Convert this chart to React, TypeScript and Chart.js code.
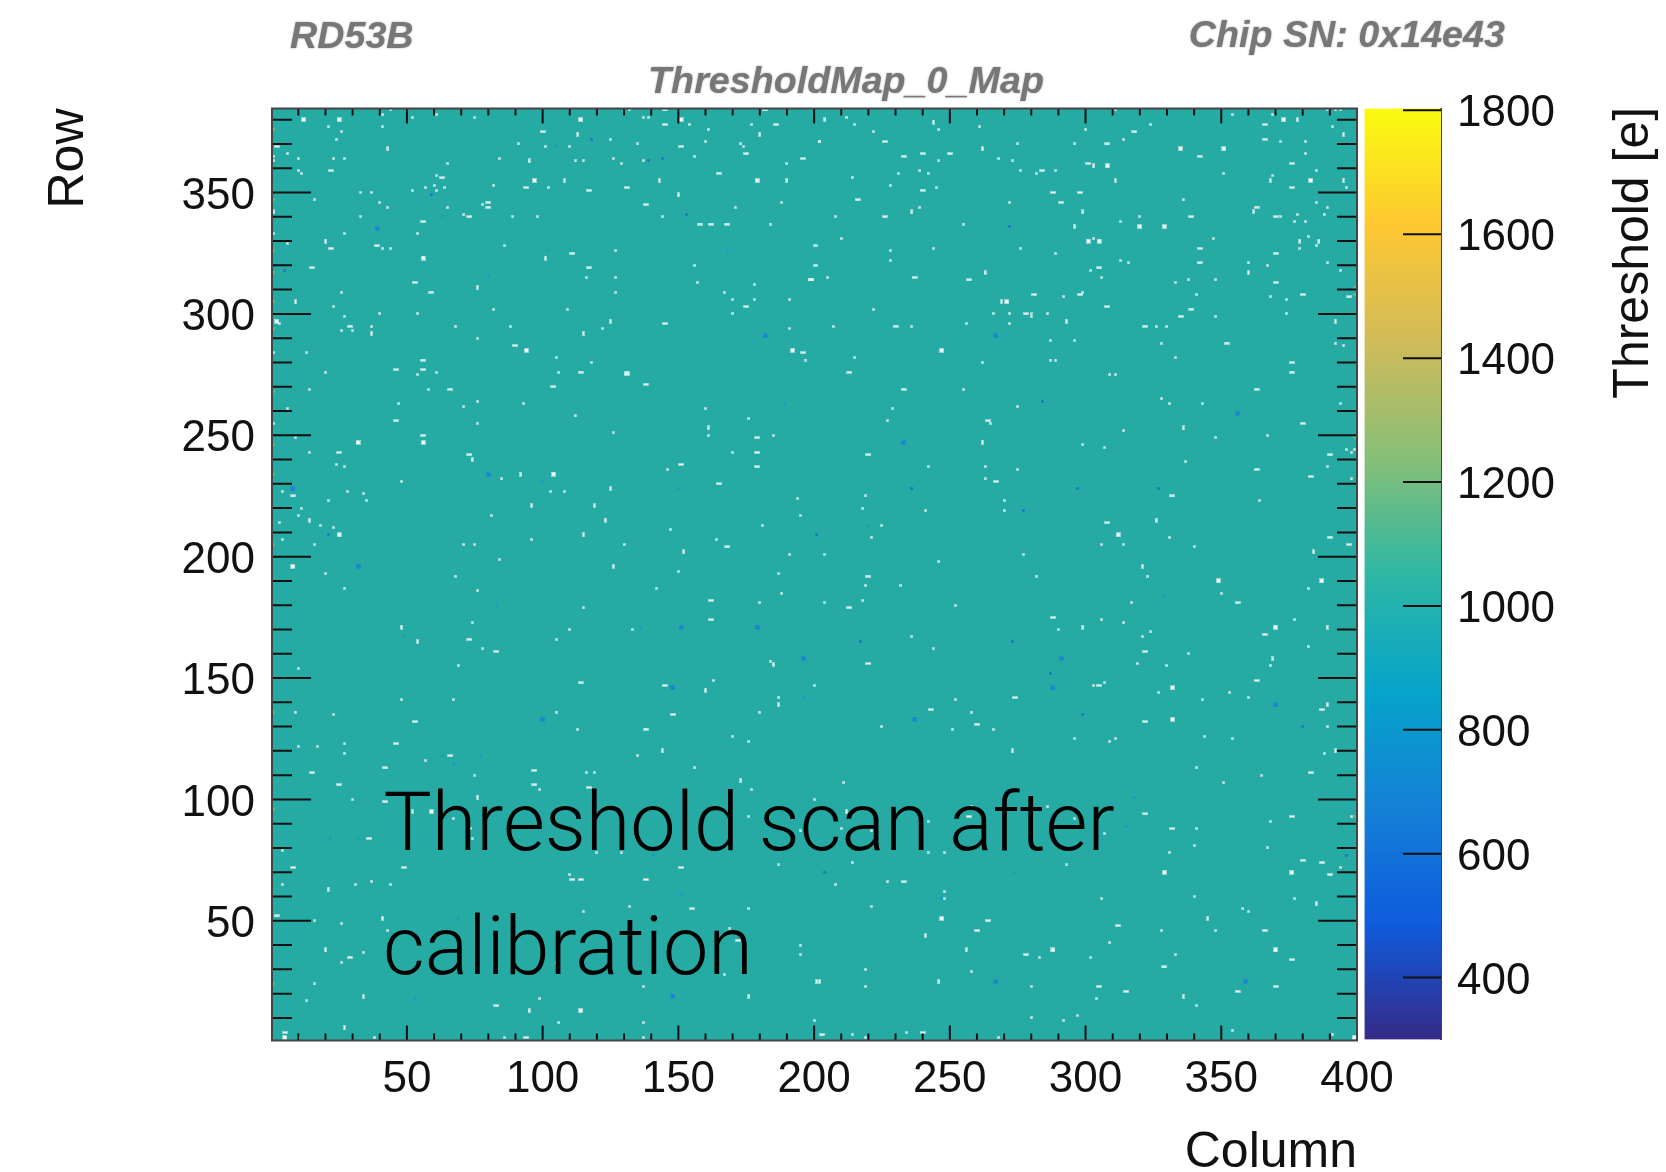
import React, { useEffect, useRef } from "react";
import { Chart, registerables } from "chart.js";

Chart.register(...registerables);

// ---- Heat-map outliers, as column,row pairs ----
const whiteDots: number[][] = [
[44,384],[41,382],[52,381],[61,382],[75,381],[132,384],[137,381],[139,381],[154,378],[177,378],[161,376],[21,377],[41,377],[26,375],[24,372],[125,372],[160,371],[202,371],[91,370],[135,370],[101,369],[110,369],[173,370],[174,369],[6,366],[1,365],[23,364],[27,364],[156,365],[10,364],[84,364],[126,364],[1,363],[112,363],[115,363],[137,363],[65,362],[129,362],[190,362],[10,359],[11,358],[61,357],[60,353],[82,353],[64,352],[102,352],[57,352],[52,351],[61,351],[33,350],[37,350],[16,347],[40,346],[78,345],[188,346],[43,344],[65,344],[171,344],[71,341],[98,340],[144,340],[33,340],[89,340],[184,337],[54,333],[27,333],[1,333],[6,329],[41,327],[44,327],[86,328],[201,328],[127,326],[156,320],[201,320],[116,315],[127,315],[157,313],[178,312],[26,309],[127,309],[167,309],[170,306],[178,306],[191,306],[23,303],[82,302],[109,302],[40,300],[54,300],[170,300],[27,299],[3,296],[37,295],[88,295],[68,295],[122,294],[191,294],[26,293],[30,293],[76,290],[1,284],[13,284],[105,282],[197,281],[118,280],[20,276],[106,276],[61,276],[54,275],[14,269],[58,269],[47,263],[76,264],[93,263],[71,262],[6,261],[160,261],[112,258],[176,257],[1,255],[76,255],[126,251],[161,250],[185,250],[9,249],[14,243],[170,243],[24,238],[27,237],[146,236],[85,232],[48,231],[4,227],[28,227],[103,227],[108,227],[34,226],[21,223],[35,223],[194,224],[11,220],[10,217],[195,217],[81,217],[3,214],[18,213],[23,212],[181,213],[147,211],[4,207],[96,207],[164,207],[16,205],[71,205],[75,205],[130,205],[191,201],[84,199],[150,194],[20,193],
[212,381],[215,378],[246,376],[261,377],[222,375],[202,371],[275,370],[268,364],[246,363],[273,363],[276,359],[239,359],[231,358],[242,358],[282,358],[289,359],[214,356],[228,353],[245,352],[272,346],[239,344],[208,340],[255,337],[210,331],[200,328],[244,327],[276,327],[228,326],[228,322],[200,320],[205,315],[222,302],[266,300],[272,300],[280,300],[280,299],[286,300],[256,296],[272,296],[236,295],[207,295],[215,282],[262,280],[255,269],[275,262],[229,261],[227,256],[265,255],[242,237],[263,237],[275,236],[263,232],[219,225],[270,223],[218,220],[270,219],[241,219],[225,213],[221,208],[204,201],[246,198],[277,201],
[311,384],[324,378],[354,382],[369,382],[389,384],[392,384],[394,384],[391,377],[300,376],[314,372],[372,371],[296,370],[381,371],[381,366],[385,359],[351,358],[369,357],[396,352],[336,347],[385,346],[389,344],[388,341],[378,341],[372,340],[320,340],[313,338],[377,338],[381,338],[382,332],[347,331],[303,331],[385,328],[379,327],[289,325],[313,322],[360,321],[389,321],[316,321],[367,320],[302,318],[394,318],[306,315],[338,314],[348,314],[333,313],[299,309],[341,308],[292,307],[368,307],[374,306],[374,300],[348,299],[326,295],[330,295],[287,289],[296,289],[392,288],[328,288],[395,287],[333,282],[287,281],[289,281],[309,275],[311,275],[328,265],[331,263],[394,263],[343,263],[314,252],[367,250],[348,249],[299,246],[307,245],[396,244],[399,244],[398,243],[337,239],[389,237],[398,232],[364,223],[331,208],[306,205],[314,205],[340,204],
[68,192],[187,193],[27,187],[76,186],[142,187],[188,185],[180,181],[115,179],[74,173],[110,170],[133,170],[105,166],[78,162],[184,157],[185,156],[185,155],[10,154],[69,155],[163,149],[200,147],[48,141],[67,141],[187,142],[9,136],[23,135],[105,136],[180,136],[113,129],[170,126],[176,124],[27,123],[10,122],[17,122],[27,119],[135,118],[57,116],[156,113],[116,111],[119,111],[75,110],[99,104],[177,104],[30,100],[200,100],[176,93],[67,92],[99,92],[195,87],[74,84],[166,80],[4,79],[120,78],[129,78],[187,73],[110,69],[37,66],[31,65],[44,65],[4,65],[16,50],[26,49],[132,56],[176,55],[115,54],[43,46],[169,47],[195,40],[34,37],[26,33],[195,36],[105,33],[167,28],[16,24],[137,23],[99,18],[13,17],[106,8],[137,8],[200,9],[38,2],[137,2],[86,2],[10,2],
[219,188],[232,188],[282,192],[323,192],[382,187],[204,181],[218,182],[350,185],[252,180],[317,181],[306,174],[314,173],[377,174],[290,170],[324,169],[236,167],[321,167],[382,163],[244,162],[338,160],[319,156],[330,155],[368,155],[303,147],[307,148],[327,144],[353,144],[252,141],[360,142],[343,141],[258,136],[225,130],[389,130],[251,129],[266,129],[344,126],[296,125],[354,125],[311,125],[309,124],[388,119],[341,113],[365,110],[211,107],[351,107],[258,97],[286,97],[296,92],[398,93],[242,91],[368,91],[210,88],[221,87],[341,88],[307,86],[340,81],[367,80],[242,78],[331,78],[248,78],[214,74],[293,73],[394,72],[208,65],[227,66],[248,62],[248,59],[306,59],[340,60],[377,59],[221,56],[358,55],[360,54],[328,46],[348,46],[309,41],[333,36],[283,35],[302,35],[219,30],[258,29],[219,23],[280,23],[304,18],[341,15],[280,10],[297,11],[292,9],[234,4],[214,3],[354,5],[219,2],[268,2],[391,3],
];
const whiteWide: number[][] = [
[145,384],[145,378],[182,384],[186,378],[100,375],[2,369],[151,369],[175,366],[196,364],[22,359],[165,358],[63,356],[131,352],[94,352],[117,351],[80,346],[138,345],[80,344],[73,340],[56,338],[158,337],[162,337],[168,337],[22,327],[39,328],[111,325],[15,319],[117,319],[199,314],[53,313],[59,309],[175,303],[145,296],[29,295],[90,287],[196,284],[56,281],[46,277],[56,277],[131,276],[114,276],[131,275],[138,271],[104,270],[66,269],[46,256],[56,250],[179,249],[25,243],[179,243],[73,242],[151,238],[179,237],[165,230],[8,225],[168,204],
[226,371],[233,365],[240,366],[250,366],[284,359],[240,351],[216,347],[226,340],[237,315],[257,314],[199,314],[281,308],[230,295],[278,300],[213,276],[233,269],[264,256],[220,242],[267,231],
[366,378],[318,375],[366,372],[308,370],[342,365],[376,362],[301,362],[376,352],[288,350],[298,350],[291,346],[363,344],[370,340],[339,340],[342,327],[370,325],[342,321],[305,319],[370,313],[298,308],[380,308],[397,307],[308,303],[339,302],[335,299],[322,295],[352,288],[376,280],[376,276],[363,269],[380,255],[390,242],[363,236],[383,233],[332,225],[308,214],[390,208],[397,205],
[162,182],[162,174],[73,166],[83,161],[114,148],[145,147],[148,135],[53,132],[138,129],[46,123],[66,118],[42,113],[97,112],[15,111],[25,106],[97,106],[117,105],[42,99],[73,88],[36,84],[49,72],[151,72],[8,72],[111,67],[114,67],[138,67],[2,52],[155,55],[172,42],[29,35],[83,15],[5,4],[94,2],
[220,192],[356,181],[213,179],[288,175],[366,168],[322,161],[220,156],[363,149],[305,147],[274,142],[243,137],[387,137],[322,132],[260,131],[383,111],[322,94],[376,93],[257,93],[332,88],[380,75],[387,74],[390,69],[233,66],[264,50],[312,48],[260,46],[366,46],[278,36],[376,34],[329,31],[305,23],[370,23],[315,21],[356,21],[240,4],[203,3],
];
const whiteTall: number[][] = [
[113,374],[180,374],[43,368],[95,363],[108,355],[143,355],[190,355],[150,349],[1,342],[20,330],[101,323],[76,311],[9,305],[125,297],[37,292],[115,292],[161,253],[74,240],[92,234],[125,228],[96,221],[119,221],[14,215],[123,215],[115,209],[152,202],[126,196],
[204,380],[244,379],[262,368],[236,342],[263,317],[269,305],[293,297],[262,247],
[378,380],[395,374],[303,361],[311,355],[368,355],[395,355],[362,342],[299,342],[296,336],[379,330],[386,330],[360,317],[392,297],[336,253],[326,215],[384,202],[321,196],
[48,171],[54,165],[173,108],[160,145],[187,139],[144,120],[76,101],[52,95],[21,63],[41,51],[20,38],[201,25],[34,19],[176,19],[95,13],[27,6],
[299,171],[389,171],[369,158],[389,139],[273,120],[392,120],[212,95],[385,57],[345,51],[241,44],[256,38],[202,25],[246,25],[336,19],
];
const whiteBig: number[][] = [
[12,380],[25,380],[114,380],[151,380],[97,355],[179,355],[56,323],[2,297],[94,285],[192,285],[32,247],[56,247],[104,234],[25,209],[8,196],
[271,305],[247,285],
[373,380],[335,368],[351,368],[308,361],[383,355],[320,336],[329,336],[301,330],[305,330],[312,209],
[59,95],[114,13],[5,2],
[349,190],[387,190],[370,171],[332,146],[332,133],[329,70],[376,70],[247,51],[288,38],[370,38],[399,2],
];
const blueCells: number[][] = [
[39,335],[80,234],[182,291],[8,228],[32,196],[267,291],[233,247],[356,259],[291,158],[288,146],[370,139],[237,133],[359,25],[267,25],[148,19],[179,171],[151,171],[100,133],[148,146],[196,158],
];
const darkCells: number[][] = [
[59,349],[287,152],[217,165],[273,165],[118,372],[144,364],[139,363],[153,341],[272,336],[284,264],[236,228],[297,228],[327,228],[277,219],[204,70],[299,135],[201,209],[21,209],[5,318],[380,130],[396,77],
];
const blueSpecks: number[][] = [
[105,369],[102,326],[168,326],[63,340],[80,316],[189,263],[150,228],[100,231],[220,213],[247,59],[318,101],[315,89],[329,184],[274,70],[83,180],[49,167],[136,171],[196,142],[63,118],[77,118],[67,115],[32,84],[22,84],[53,18],[151,61],[69,51],[141,77],
];
const edgeSpecks: number[][] = [
[1,376],[1,347],[1,326],[1,317],[1,305],[1,294],[1,268],[1,246],[1,234],[1,205],[1,170],[1,136],[1,96],[1,24],[399,311],[399,308],[399,249],[399,190],[399,93],[399,40],
];

// ---- Axes ----
const xMajorTicks = [50, 100, 150, 200, 250, 300, 350, 400];
const xMinorTicks = [10, 20, 30, 40, 60, 70, 80, 90, 110, 120, 130, 140, 160, 170, 180, 190, 210, 220, 230, 240, 260, 270, 280, 290, 310, 320, 330, 340, 360, 370, 380, 390];
const yMajorTicks = [50, 100, 150, 200, 250, 300, 350];
const yMinorTicks = [10, 20, 30, 40, 60, 70, 80, 90, 110, 120, 130, 140, 160, 170, 180, 190, 210, 220, 230, 240, 260, 270, 280, 290, 310, 320, 330, 340, 360, 370, 380];
const zTicks = [400, 600, 800, 1000, 1200, 1400, 1600, 1800];
const zRange = [300, 1803];
const colourStops = ["#352a87", "#0f5cdd", "#1481d6", "#06a4ca", "#2eb7a4", "#87bf77", "#d1bb59", "#fec832", "#f9fb0e"];

// ---- Text ----
const leftLabel = "RD53B";
const rightLabel = "Chip SN: 0x14e43";
const titleLabel = "ThresholdMap_0_Map";
const xTitle = "Column";
const yTitle = "Row";
const zTitle = "Threshold [e]";
const noteLines = ["Threshold scan after", "calibration"];

const SANS = '"Liberation Sans", Arial, sans-serif';
const PLOT_FILL = "#25aaa4";

function stamp(w: number, h: number, colour: string): HTMLCanvasElement {
  const c = document.createElement("canvas");
  c.width = w;
  c.height = h;
  const g = c.getContext("2d")!;
  g.fillStyle = colour;
  g.globalAlpha = 0.5;
  g.fillRect(0, 0, w, h);
  g.globalAlpha = 1;
  g.fillRect(1, 1, Math.max(1, w - 2), Math.max(1, h - 2));
  return c;
}

const toPoints = (pairs: number[][]) => pairs.map(([x, y]) => ({ x, y }));

function series(label: string, pairs: number[][], style: HTMLCanvasElement) {
  return {
    label,
    data: toPoints(pairs),
    pointStyle: style,
    pointRadius: 3,
    showLine: false,
  };
}

export default function App() {
  const mainRef = useRef<HTMLCanvasElement>(null);
  const barRef = useRef<HTMLCanvasElement>(null);

  useEffect(() => {
    const mainPlugin = {
      id: "rootFrame",
      beforeDatasetsDraw(chart: any) {
        const { ctx, chartArea: a } = chart;
        ctx.save();
        ctx.fillStyle = PLOT_FILL;
        ctx.fillRect(a.left, a.top, a.right - a.left, a.bottom - a.top);
        ctx.restore();
      },
      afterDraw(chart: any) {
        const { ctx, chartArea: a, scales } = chart;
        ctx.save();
        ctx.strokeStyle = "#111";
        ctx.lineWidth = 2;
        const vTick = (v: number, len: number) => {
          const p = scales.x.getPixelForValue(v);
          ctx.beginPath();
          ctx.moveTo(p, a.bottom);
          ctx.lineTo(p, a.bottom - len);
          ctx.moveTo(p, a.top);
          ctx.lineTo(p, a.top + len);
          ctx.stroke();
        };
        const hTick = (v: number, len: number) => {
          const p = scales.y.getPixelForValue(v);
          ctx.beginPath();
          ctx.moveTo(a.left, p);
          ctx.lineTo(a.left + len, p);
          ctx.moveTo(a.right, p);
          ctx.lineTo(a.right - len, p);
          ctx.stroke();
        };
        xMajorTicks.forEach((v) => vTick(v, 15));
        xMinorTicks.forEach((v) => vTick(v, 7));
        yMajorTicks.forEach((v) => hTick(v, 39));
        yMinorTicks.forEach((v) => hTick(v, 20));
        ctx.strokeStyle = "#444";
        ctx.lineWidth = 2;
        ctx.strokeRect(a.left, a.top, a.right - a.left, a.bottom - a.top);

        ctx.save();
        ctx.shadowColor = "rgba(119,119,119,0.7)";
        ctx.shadowBlur = 2;
        ctx.fillStyle = "#777";
        ctx.font = `italic bold 37.7px ${SANS}`;
        ctx.textBaseline = "alphabetic";
        ctx.textAlign = "left";
        ctx.fillText(leftLabel, 290, 48);
        ctx.textAlign = "right";
        ctx.fillText(rightLabel, 1505, 47);
        ctx.textAlign = "center";
        ctx.fillText(titleLabel, 846, 93);
        ctx.restore();

        ctx.fillStyle = "#000";
        ctx.textAlign = "left";
        ctx.font = `300 81px Roboto, ${SANS}`;
        ctx.fillText(noteLines[0], 383.5, 850);
        ctx.fillText(noteLines[1], 383, 974);
        ctx.restore();
      },
    };

    const dot = stamp(3, 3, "#ffffff");
    const wide = stamp(6, 3, "#ffffff");
    const tall = stamp(3, 5, "#ffffff");
    const big = stamp(5, 5, "#ffffff");

    const main = new Chart(mainRef.current!, {
      type: "scatter",
      data: {
        datasets: [
          series("edge", edgeSpecks, stamp(3, 3, "#8fb56a")),
          series("speck", blueSpecks, stamp(3, 3, "#1b93d2")),
          series("blue", blueCells, stamp(5, 5, "#1a80d8")),
          series("dark", darkCells, stamp(3, 3, "#1a5fd0")),
          series("dots", whiteDots, dot),
          series("wide", whiteWide, wide),
          series("tall", whiteTall, tall),
          series("big", whiteBig, big),
        ] as any,
      },
      plugins: [mainPlugin],
      options: {
        responsive: false,
        animation: false,
        events: [],
        layout: { autoPadding: false, padding: { top: 108.5, right: 309, left: 0, bottom: 0 } },
        plugins: { legend: { display: false }, tooltip: { enabled: false }, title: { display: false } },
        scales: {
          x: {
            type: "linear",
            min: 0.3,
            max: 400,
            grid: { display: false, drawTicks: false },
            border: { display: false },
            afterBuildTicks: (s: any) => {
              s.ticks = xMajorTicks.map((value) => ({ value }));
            },
            afterFit: (s: any) => {
              s.height = 131.5;
            },
            ticks: {
              autoSkip: false,
              maxRotation: 0,
              padding: 13,
              color: "#111",
              font: { family: SANS, size: 44 },
              callback: (v: any) => String(v),
            },
            title: {
              display: true,
              text: xTitle,
              align: "end",
              color: "#111",
              font: { family: SANS, size: 50, lineHeight: 0.7 },
              padding: { top: 1.5, bottom: 1.5 },
            },
          },
          y: {
            type: "linear",
            min: 0.7,
            max: 384.6,
            grid: { display: false, drawTicks: false },
            border: { display: false },
            afterBuildTicks: (s: any) => {
              s.ticks = yMajorTicks.map((value) => ({ value }));
            },
            afterFit: (s: any) => {
              s.width = 272;
            },
            ticks: {
              autoSkip: false,
              padding: 17,
              labelOffset: 4,
              color: "#111",
              font: { family: SANS, size: 44 },
              callback: (v: any) => String(v),
            },
            title: {
              display: true,
              text: yTitle,
              align: "end",
              color: "#111",
              font: { family: SANS, size: 50, lineHeight: 0.85 },
              padding: { top: 48, bottom: 48 },
            },
          },
        },
      } as any,
    });

    const barPlugin = {
      id: "colourBarMarks",
      afterDraw(chart: any) {
        const { ctx, chartArea: a, scales } = chart;
        ctx.save();
        ctx.strokeStyle = "#111";
        ctx.lineWidth = 2;
        zTicks.forEach((v) => {
          const p = scales.y.getPixelForValue(v);
          ctx.beginPath();
          ctx.moveTo(a.right, p);
          ctx.lineTo(a.right - 38, p);
          ctx.stroke();
        });
        ctx.translate(274, (a.top + 397) / 2);
        ctx.rotate(-Math.PI / 2);
        ctx.fillStyle = "#111";
        ctx.font = `50px ${SANS}`;
        ctx.textAlign = "center";
        ctx.textBaseline = "middle";
        ctx.fillText(zTitle, 0, 0);
        ctx.restore();
      },
    };

    const bar = new Chart(barRef.current!, {
      type: "bar",
      data: {
        labels: ["Threshold"],
        datasets: [
          {
            label: "Threshold",
            data: [zRange as any],
            barPercentage: 1,
            categoryPercentage: 1,
            borderWidth: 0,
            backgroundColor: (c: any) => {
              const { chart } = c;
              if (!chart.chartArea) return colourStops[0];
              const y = chart.scales.y;
              const g = chart.ctx.createLinearGradient(0, y.getPixelForValue(zRange[0]), 0, y.getPixelForValue(zRange[1]));
              colourStops.forEach((col, i) => g.addColorStop(i / (colourStops.length - 1), col));
              return g;
            },
          },
        ],
      },
      plugins: [barPlugin],
      options: {
        responsive: false,
        animation: false,
        events: [],
        layout: { autoPadding: false, padding: { top: 108.5, bottom: 132.5, left: 4.5, right: 0 } },
        plugins: { legend: { display: false }, tooltip: { enabled: false } },
        scales: {
          x: { display: false },
          y: {
            position: "right",
            type: "linear",
            min: zRange[0],
            max: zRange[1],
            grid: { display: false, drawTicks: false },
            border: { display: true, color: "#444", width: 2 },
            afterBuildTicks: (s: any) => {
              s.ticks = zTicks.map((value) => ({ value }));
            },
            afterFit: (s: any) => {
              s.width = 225;
            },
            ticks: {
              autoSkip: false,
              padding: 16,
              labelOffset: 4,
              color: "#111",
              font: { family: SANS, size: 44 },
              callback: (v: any) => String(v),
            },
          },
        },
      } as any,
    });

    return () => {
      main.destroy();
      bar.destroy();
    };
  }, []);

  return (
    <div style={{ position: "absolute", left: 0, top: 0, width: 1666, height: 1172, background: "#fff", overflow: "hidden" }}>
      <canvas ref={mainRef} width={1666} height={1172} style={{ position: "absolute", left: 0, top: 0, display: "block" }} />
      <canvas ref={barRef} width={306} height={1172} style={{ position: "absolute", left: 1360, top: 0, display: "block" }} />
    </div>
  );
}
